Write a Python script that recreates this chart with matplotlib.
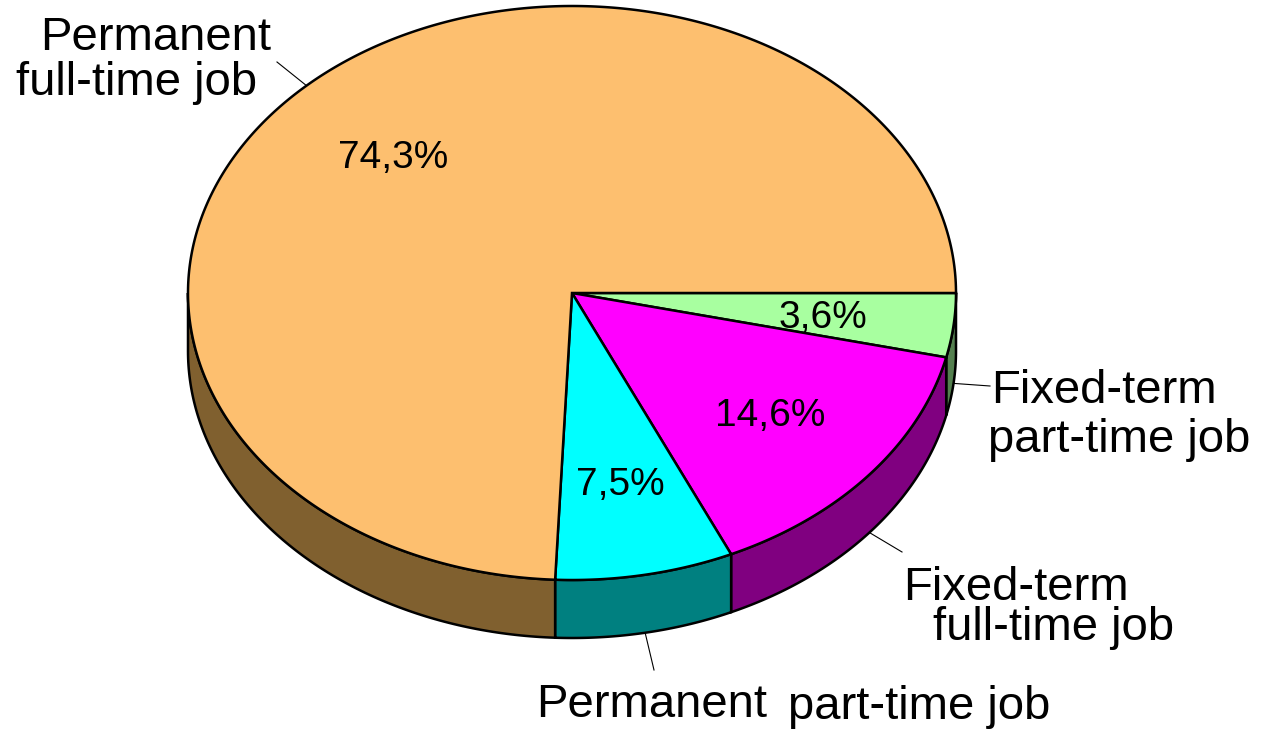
import numpy as np
import matplotlib
matplotlib.use("Agg")
import matplotlib.pyplot as plt
from matplotlib.patches import Polygon

# slices, clockwise from 3 o'clock
categories = ["Fixed-term part-time job", "Fixed-term full-time job",
              "Permanent part-time job", "Permanent full-time job"]
shares = [3.6, 14.6, 7.5, 74.3]
pct_labels = ["3,6%", "14,6%", "7,5%", "74,3%"]
label_lines = [["Fixed-term", "part-time job"],
               ["Fixed-term", "full-time job"],
               ["Permanent", "part-time job"],
               ["Permanent", "full-time job"]]

top_colors = ["#a8ffa0", "#ff00ff", "#00ffff", "#fdbf6f"]
side_colors = ["#54804f", "#800080", "#008080", "#80602f"]

# pie geometry in pixels
cx, cy, rx, ry, depth = 572, 293, 384, 287, 58

# where the text goes (pixels)
pct_pos = [(823, 318), (770, 416), (620, 485), (393, 158)]
line_pos = [[(991, 403), (988, 452)],
            [(903, 600), (933, 640)],
            [(536, 717), (788, 719)],
            [(40, 50), (16, 95)]]
leader_end = [(990, 386), (902, 552), (654, 670), (277, 62)]

FONT = "Liberation Sans"


def pt(theta, dy=0.0):
    t = np.radians(theta)
    return cx + rx * np.cos(t), cy - ry * np.sin(t) + dy


fig = plt.figure(figsize=(12.61, 7.30), dpi=100)
ax = fig.add_axes([0, 0, 1, 1])
ax.set_xlim(0, 1261)
ax.set_ylim(730, 0)
ax.axis("off")

total = float(sum(shares))
bounds = [0.0]
for s in shares:
    bounds.append(bounds[-1] - 360.0 * s / total)

# side walls (front half only)
for i in range(len(shares)):
    a0, a1 = bounds[i], bounds[i + 1]
    hi = min(a0, 0.0)
    lo = max(a1, -180.0)
    if lo >= hi:
        continue
    th = np.linspace(hi, lo, 120)
    xs, ys = pt(th)
    top = np.column_stack([xs, ys])
    bot = np.column_stack([xs, ys + depth])[::-1]
    ax.add_patch(Polygon(np.vstack([top, bot]), closed=True,
                         facecolor=side_colors[i], edgecolor="black",
                         linewidth=1.8, zorder=1))

# top faces
for i in range(len(shares)):
    a0, a1 = bounds[i], bounds[i + 1]
    th = np.linspace(a0, a1, 400)
    xs, ys = pt(th)
    verts = np.vstack([[cx, cy], np.column_stack([xs, ys])])
    ax.add_patch(Polygon(verts, closed=True, facecolor=top_colors[i],
                         edgecolor="black", linewidth=1.8, zorder=2))

# percentages
for i in range(len(shares)):
    ax.text(pct_pos[i][0], pct_pos[i][1], pct_labels[i], fontsize=28,
            family=FONT, ha="center", va="center", zorder=5)

# outer labels + leader lines
for i in range(len(shares)):
    mid = (bounds[i] + bounds[i + 1]) / 2.0
    if np.sin(np.radians(mid)) < 0:
        x0, y0 = pt(mid, depth)
    else:
        x0, y0 = pt(mid)
    ex, ey = leader_end[i]
    ax.plot([x0, ex], [y0, ey], color="black", linewidth=0.8, zorder=3)
    for txt, (lx, ly) in zip(label_lines[i], line_pos[i]):
        ax.text(lx, ly, txt, fontsize=34, family=FONT, ha="left",
                va="baseline", zorder=5)

fig.savefig("out.png", dpi=100)
